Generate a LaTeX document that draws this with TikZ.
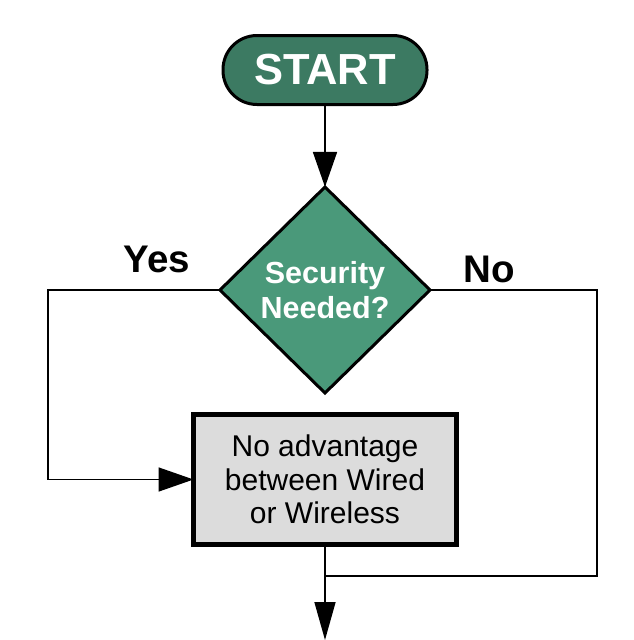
\documentclass[tikz,border=0pt]{standalone}
\usepackage{fontspec}
\setmainfont{Liberation Sans}
\usepackage{xcolor}
\usetikzlibrary{shapes.geometric,arrows.meta}
\definecolor{startgreen}{HTML}{3C7A62}
\definecolor{decgreen}{HTML}{4A997A}
\definecolor{boxgray}{HTML}{DCDCDC}

\begin{document}
\begin{tikzpicture}[x=1pt, y=-1pt,
    startstop/.style={rectangle, rounded corners=34pt, draw=black, line width=3pt, fill=startgreen,
        minimum width=204pt, minimum height=69pt, outer sep=0pt, text=white,
        font=\fontsize{43.5}{46}\selectfont\bfseries},
    decision/.style={diamond, draw=black, line width=3pt, fill=decgreen, minimum width=210pt,
        minimum height=206pt, inner sep=0pt, outer sep=0pt, text=white, align=center,
        font=\fontsize{30.5}{35}\selectfont\bfseries},
    process/.style={rectangle, draw=black, line width=4.5pt, fill=boxgray, minimum width=263pt,
        minimum height=130pt, outer sep=0pt, align=center, font=\fontsize{30}{33.5}\selectfont},
    answer/.style={anchor=base, font=\fontsize{38.5}{40}\selectfont\bfseries},
    line/.style={line width=1.6pt},
    arrow/.style={line, -{Triangle[length=35pt, width=24pt]}}]
    \useasboundingbox (0,0) rectangle (634,640);
    \node[startstop] (start) at (325,70) {START};
    \node[decision] (security) at (325,290) {Security\\Needed?};
    \node[process] (advantage) at (325,479.5) {No advantage\\between Wired\\or Wireless};
    \coordinate (merge) at (325,576);
    \coordinate (next) at (325,640);
    \node[answer] (yes) at (157,272) {Yes};
    \node[answer] (no) at (489,282) {No};
    \draw[arrow] (start) -- (security);
    \draw[arrow] (security.west) -- (48,290) |- (advantage.west);
    \draw[line] (security.east) -- (597,290) |- (merge);
    \draw[arrow, -{Triangle[length=38pt, width=21pt]}] (advantage) -- (next);
\end{tikzpicture}
\end{document}
